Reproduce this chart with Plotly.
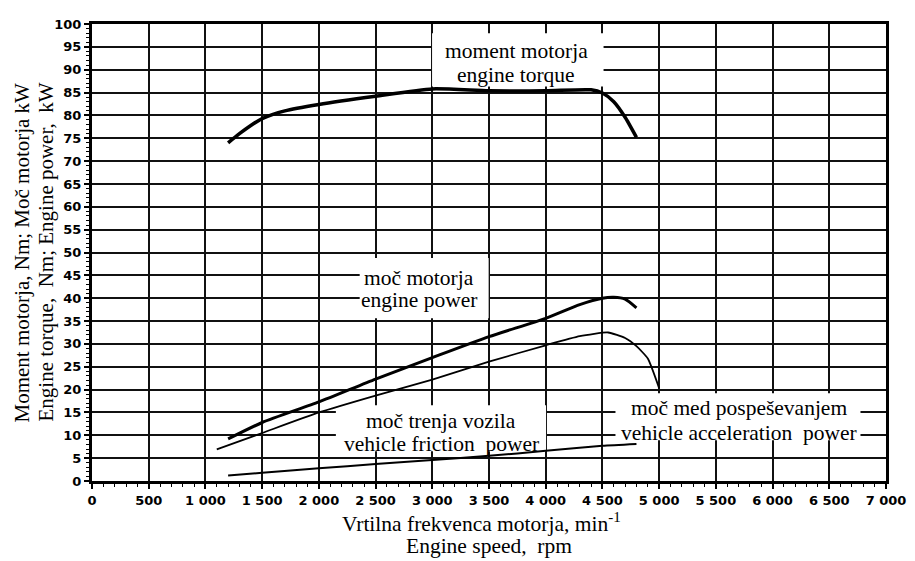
import plotly.graph_objects as go

# ---- data ----
rpm_torque = [1200, 1300, 1400, 1500, 1700, 2000, 2500, 3000, 3500, 4000, 4400, 4500, 4600, 4700, 4800]
torque_nm = [74.0, 76.0, 77.8, 79.3, 81.0, 82.4, 84.2, 85.8, 85.4, 85.4, 85.6, 84.9, 83.0, 79.6, 75.2]

rpm_power = [1200, 1500, 2000, 2500, 3000, 3500, 4000, 4300, 4500, 4600, 4700, 4800]
engine_power_kw = [9.2, 12.8, 17.3, 22.3, 27.0, 31.6, 35.6, 38.6, 40.0, 40.2, 39.8, 37.9]

rpm_accel = [1100, 1500, 2000, 2500, 3000, 3500, 4000, 4300, 4550, 4700, 4800, 4900, 5000]
accel_power_kw = [6.9, 10.5, 15.0, 18.7, 22.2, 26.1, 29.7, 31.7, 32.5, 31.3, 29.5, 26.8, 20.3]

rpm_friction = [1200, 1500, 2000, 2500, 3000, 3500, 4000, 4500, 4800]
friction_power_kw = [1.2, 1.8, 2.8, 3.7, 4.6, 5.5, 6.6, 7.7, 8.1]

x_tick_vals = [0, 500, 1000, 1500, 2000, 2500, 3000, 3500, 4000, 4500, 5000, 5500, 6000, 6500, 7000]
x_tick_text = ["0", "500", "1 000", "1 500", "2 000", "2 500", "3 000", "3 500", "4 000",
               "4 500", "5 000", "5 500", "6 000", "6 500", "7 000"]
y_tick_vals = list(range(0, 101, 5))

serif = "Liberation Serif, Times New Roman, serif"
tickfont = dict(family="DejaVu Sans, Arial, sans-serif", size=13, color="black", weight="bold")

fig = go.Figure()
fig.add_trace(go.Scatter(x=rpm_torque, y=torque_nm, mode="lines",
                         line=dict(color="black", width=3.5, shape="spline", smoothing=0.6),
                         showlegend=False))
fig.add_trace(go.Scatter(x=rpm_power, y=engine_power_kw, mode="lines",
                         line=dict(color="black", width=3, shape="spline", smoothing=0.6),
                         showlegend=False))
fig.add_trace(go.Scatter(x=rpm_accel, y=accel_power_kw, mode="lines",
                         line=dict(color="black", width=1.8, shape="spline", smoothing=0.5),
                         showlegend=False))
fig.add_trace(go.Scatter(x=rpm_friction, y=friction_power_kw, mode="lines",
                         line=dict(color="black", width=2, shape="spline", smoothing=0.5),
                         showlegend=False))

# white label boxes (above grid, below curves)
boxes = [(2998, 4510, 86.3, 98.0), (2360, 3497, 35.6, 48.8),
         (2150, 4003, 6.5, 16.6), (4615, 6775, 8.9, 19.2)]
for x0, x1, y0, y1 in boxes:
    fig.add_shape(type="rect", xref="x", yref="y", x0=x0, x1=x1, y0=y0, y1=y1,
                  fillcolor="white", line=dict(width=0), layer="between")

label_lines = [
    ("moment motorja", 3741, 94.2), ("engine torque", 3741, 88.8),
    ("moč motorja", 2885, 44.5), ("engine power", 2885, 39.5),
    ("moč trenja vozila", 3077, 13.2), ("vehicle friction  power", 3077, 8.2),
    ("moč med pospeševanjem", 5708, 16.0), ("vehicle acceleration  power", 5708, 10.6),
]
for txt, xx, yy in label_lines:
    fig.add_annotation(text=txt, x=xx, y=yy, xref="x", yref="y", showarrow=False,
                       font=dict(family=serif, size=21.5, color="black"),
                       xanchor="center", yanchor="middle", align="center")

# axis titles
fig.add_annotation(text="Moment motorja, Nm; Moč motorja kW", xref="paper", yref="paper",
                   x=0, y=0.5, xshift=-71, textangle=-90, showarrow=False,
                   font=dict(family=serif, size=21, color="black"), xanchor="center", yanchor="middle")
fig.add_annotation(text="Engine torque,  Nm; Engine power,  kW", xref="paper", yref="paper",
                   x=0, y=0.5, xshift=-47, textangle=-90, showarrow=False,
                   font=dict(family=serif, size=21, color="black"), xanchor="center", yanchor="middle")
fig.add_annotation(text="Vrtilna frekvenca motorja, min<sup>-1</sup>", xref="paper", yref="paper",
                   x=0.4906, y=0, yshift=-41, showarrow=False,
                   font=dict(family=serif, size=21.5, color="black"), xanchor="center", yanchor="middle")
fig.add_annotation(text="Engine speed,  rpm", xref="paper", yref="paper",
                   x=0.5006, y=0, yshift=-65, showarrow=False,
                   font=dict(family=serif, size=21.5, color="black"), xanchor="center", yanchor="middle")

fig.update_xaxes(range=[0, 7000], tickvals=x_tick_vals, ticktext=x_tick_text,
                 showgrid=True, gridcolor="#111111", gridwidth=1.6, zeroline=False,
                 showline=True, linecolor="black", linewidth=3, mirror=True,
                 ticks="outside", ticklen=5, tickwidth=1.5, tickcolor="black",
                 tickfont=tickfont,
                 minor=dict(dtick=100, ticks="outside", ticklen=3, tickwidth=1,
                            tickcolor="black", showgrid=False))
fig.update_yaxes(range=[0, 100], tickvals=y_tick_vals,
                 showgrid=True, gridcolor="#111111", gridwidth=1.6, zeroline=False,
                 showline=True, linecolor="black", linewidth=3, mirror=True,
                 ticks="outside", ticklen=5, tickwidth=1.5, tickcolor="black",
                 tickfont=tickfont,
                 minor=dict(dtick=1, ticks="outside", ticklen=3, tickwidth=1,
                            tickcolor="black", showgrid=False))

# page body has an 8px margin, so the figure is sized to fit inside the 915x561 window
fig.update_layout(width=907, height=553, margin=dict(l=84, r=22, t=9, b=80),
                  plot_bgcolor="white", paper_bgcolor="white", showlegend=False)

fig.write_html("out.html")
